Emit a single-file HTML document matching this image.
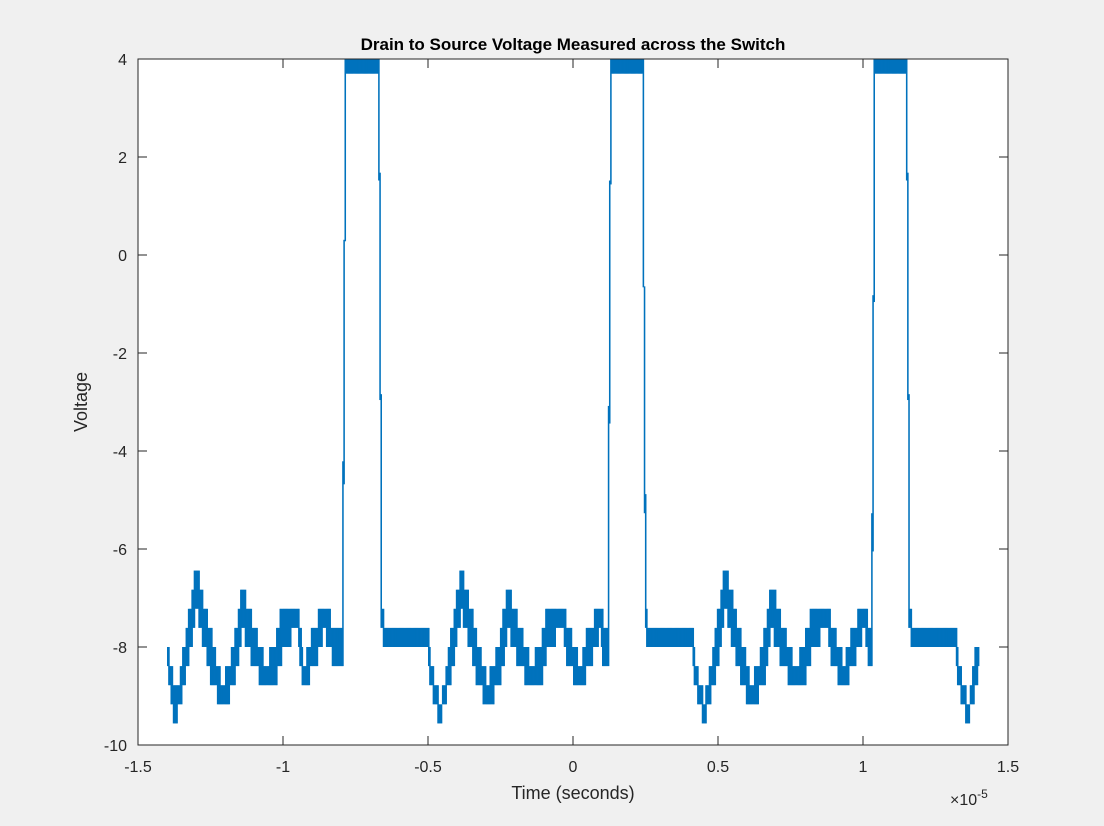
<!DOCTYPE html>
<html><head><meta charset="utf-8"><style>
body{margin:0;background:#f0f0f0;}
svg{display:block;font-family:"Liberation Sans",Arial,sans-serif;}
</style></head><body>
<svg id="chart" width="1104" height="826">
<rect x="0" y="0" width="1104" height="826" fill="#f0f0f0"/>
<rect x="138" y="59" width="870" height="686" fill="#fff"/>
<g id="marks"></g>
<rect x="138" y="59" width="870" height="686" fill="none" stroke="#262626" stroke-width="1"/>
<g id="ticks"></g>
<text x="573" y="50" text-anchor="middle" font-size="17" font-weight="bold" fill="#000">Drain to Source Voltage Measured across the Switch</text>
<text x="573" y="799" text-anchor="middle" font-size="18" fill="#262626">Time (seconds)</text>
<text transform="translate(87,402) rotate(-90)" text-anchor="middle" font-size="18" fill="#262626">Voltage</text>
<text x="950" y="805" font-size="16" fill="#262626">×10<tspan dy="-7" font-size="12">-5</tspan></text>
</svg>
<script>
const times=[-1.40,-1.375,-1.36,-1.33,-1.30,-1.27,-1.24,-1.21,-1.17,-1.14,-1.10,-1.06,-1.03,-1.00,-0.95,-0.93,-0.89,-0.86,-0.82,-0.795,-0.785,-0.67,-0.66,-0.65,-0.50,-0.49,-0.47,-0.46,-0.445,-0.415,-0.385,-0.355,-0.325,-0.295,-0.255,-0.225,-0.185,-0.145,-0.115,-0.085,-0.035,-0.015,0.025,0.055,0.095,0.105,0.12,0.13,0.24,0.25,0.26,0.41,0.42,0.44,0.45,0.465,0.495,0.525,0.555,0.585,0.615,0.655,0.685,0.725,0.765,0.795,0.825,0.875,0.895,0.935,0.965,1.005,1.02,1.03,1.04,1.15,1.16,1.17,1.32,1.33,1.35,1.36,1.375,1.39,1.40];
const upper=[-8.0,-8.8,-8.8,-7.6,-6.4,-7.2,-8.0,-8.8,-8.0,-6.8,-7.6,-8.4,-8.0,-7.2,-7.2,-8.4,-7.6,-7.2,-7.6,-7.6,3.7,3.7,-7.2,-7.6,-7.6,-8.4,-8.8,-9.2,-8.8,-7.6,-6.4,-7.2,-8.0,-8.8,-8.0,-6.8,-7.6,-8.4,-8.0,-7.2,-7.2,-7.6,-8.4,-7.6,-7.2,-7.6,-7.6,3.7,3.7,-7.2,-7.6,-7.6,-8.4,-8.8,-9.2,-8.8,-7.6,-6.4,-7.2,-8.0,-8.8,-8.0,-6.8,-7.6,-8.4,-8.0,-7.2,-7.2,-7.6,-8.4,-7.6,-7.2,-7.6,-7.6,3.7,3.7,-7.2,-7.6,-7.6,-8.4,-8.8,-9.2,-8.8,-8.0,-8.0];
const lower=[-8.4,-9.55,-9.2,-8.4,-7.2,-8.0,-8.8,-9.2,-8.8,-7.6,-8.4,-8.8,-8.8,-8.0,-7.6,-8.8,-8.4,-7.6,-8.4,-8.4,4.0,4.0,-7.6,-8.0,-8.0,-8.8,-9.2,-9.55,-9.2,-8.4,-7.2,-8.0,-8.8,-9.2,-8.8,-7.6,-8.4,-8.8,-8.8,-8.0,-7.6,-8.4,-8.8,-8.4,-7.6,-8.4,-8.4,4.0,4.0,-7.6,-8.0,-8.0,-8.8,-9.2,-9.55,-9.2,-8.4,-7.2,-8.0,-8.8,-9.2,-8.8,-7.6,-8.4,-8.8,-8.8,-8.0,-7.6,-8.4,-8.8,-8.4,-7.6,-8.4,-8.4,4.0,4.0,-7.6,-8.0,-8.0,-8.8,-9.2,-9.55,-9.2,-8.8,-8.4];
const xTicks=[-1.5,-1,-0.5,0,0.5,1,1.5];
const xTickLabels=["-1.5","-1","-0.5","0","0.5","1","1.5"];
const yTicks=[4,2,0,-2,-4,-6,-8,-10];
const yTickLabels=["4","2","0","-2","-4","-6","-8","-10"];

const X0=138,X1=1008,Y0=745,Y1=59;
function xs(t){return X0+(t+1.5)/3*(X1-X0);}
function ys(v){return Y0-(v+10)/14*(Y0-Y1);}
function interp(arr,t){
  for(let i=0;i<times.length-1;i++){
    if(t>=times[i]&&t<=times[i+1]){const f=(t-times[i])/(times[i+1]-times[i]);return arr[i]+f*(arr[i+1]-arr[i]);}
  }
  return arr[arr.length-1];
}
function q(v){return v<-5?-8+Math.round((v+8)/0.39)*0.39:v;}
const NS="http://www.w3.org/2000/svg";
const marks=document.getElementById('marks');
const step=0.004;
for(let t=times[0];t<times[times.length-1]-1e-9;t+=step){
  const a=q(interp(upper,t)),b=q(interp(lower,t+step)),c=q(interp(upper,t+step)),d=q(interp(lower,t));
  const hi=Math.max(a,c,b,d),lo=Math.min(a,c,b,d);
  const r=document.createElementNS(NS,'rect');
  
  
  const y1=ys(hi),y2=ys(lo);
  r.setAttribute('x',xs(t));r.setAttribute('width',xs(t+step)-xs(t)+0.4);
  r.setAttribute('y',y1);r.setAttribute('height',Math.max(1.5,y2-y1));
  r.setAttribute('fill','#0072bd');
  marks.appendChild(r);
}
const tg=document.getElementById('ticks');
xTicks.forEach((v,i)=>{
  const x=xs(v);
  const l=document.createElementNS(NS,'path');
  
  
  l.setAttribute('d',`M${x},${Y0}v-9M${x},${Y1}v9`);l.setAttribute('stroke','#262626');
  tg.appendChild(l);
  const tx=document.createElementNS(NS,'text');
  
  
  tx.setAttribute('x',x);tx.setAttribute('y',772);tx.setAttribute('text-anchor','middle');
  tx.setAttribute('font-size','16');tx.setAttribute('fill','#262626');tx.textContent=xTickLabels[i];
  tg.appendChild(tx);
});
yTicks.forEach((v,i)=>{
  const y=ys(v);
  const l=document.createElementNS(NS,'path');
  
  
  l.setAttribute('d',`M${X0},${y}h9M${X1},${y}h-9`);l.setAttribute('stroke','#262626');
  tg.appendChild(l);
  const tx=document.createElementNS(NS,'text');
  
  
  tx.setAttribute('x',127);tx.setAttribute('y',y+6);tx.setAttribute('text-anchor','end');
  tx.setAttribute('font-size','16');tx.setAttribute('fill','#262626');tx.textContent=yTickLabels[i];
  tg.appendChild(tx);
});
</script>
</body></html>
